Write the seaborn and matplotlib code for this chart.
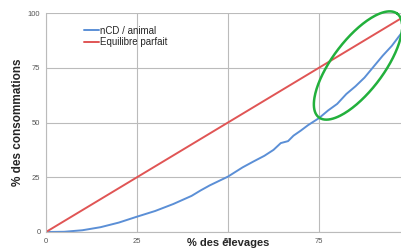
import numpy as np
import pandas as pd
import matplotlib
matplotlib.use("Agg")
import matplotlib.pyplot as plt
import seaborn as sns

# % des élevages (x) and cumulative % des consommations (y)
elevages = [0, 5, 10, 15, 20, 25, 30, 35, 40, 42.5, 45, 50, 54, 57, 60, 62.5,
            64.5, 66.5, 68, 70, 72, 75, 77.5, 80, 82.5, 85, 87.5, 90, 92.5,
            95, 97.5, 100]
ncd_animal = [0, 0.1, 0.8, 2.2, 4.3, 7, 9.6, 12.8, 16.5, 19, 21.3, 25.3, 29.5,
              32.2, 34.8, 37.5, 40.6, 41.5, 44, 46.3, 48.8, 52, 55.5, 58.5,
              63, 66.5, 70.5, 75.5, 80.5, 85, 90.5, 95]
equilibre_x = [0, 100]
equilibre_y = [0, 100]

SERIES = ["nCD / animal", "Equilibre parfait"]
COLORS = ["#5b8fd6", "#e05555"]
X_TICKS = [0, 25, 50, 75]
Y_TICKS = [0, 25, 50, 75, 100]

df = pd.concat([
    pd.DataFrame({"x": elevages, "y": ncd_animal, "serie": SERIES[0]}),
    pd.DataFrame({"x": equilibre_x, "y": equilibre_y, "serie": SERIES[1]}),
])

sns.set_theme(style="whitegrid")
plt.rcParams["font.family"] = ["Liberation Sans", "DejaVu Sans"]

fig = plt.figure(figsize=(4.01, 2.5), dpi=100)
ax = fig.add_axes([46 / 401, 18 / 250, 364 / 401, 219 / 250])

sns.lineplot(data=df, x="x", y="y", hue="serie", hue_order=SERIES,
             palette=COLORS, linewidth=1.4, ax=ax, sort=False)

ax.set_xlim(0, 100)
ax.set_ylim(0, 100)
ax.set_xticks(X_TICKS)
ax.set_yticks(Y_TICKS)
ax.tick_params(axis="both", labelsize=5.5, labelcolor="#555555", length=0, pad=4)
ax.grid(True, color="#bbbbbb", linewidth=0.8)
for side in ["top", "right"]:
    ax.spines[side].set_visible(False)
for side in ["left", "bottom"]:
    ax.spines[side].set_color("#bbbbbb")
    ax.spines[side].set_linewidth(0.8)

ax.set_xlabel("% des élevages", fontsize=8, fontweight="bold", labelpad=-4.5)
ax.set_ylabel("% des consommations", fontsize=8.5, fontweight="bold", labelpad=3)

leg = ax.legend(loc="upper left", bbox_to_anchor=(0.09, 0.965), frameon=False,
                fontsize=7, handlelength=1.6, handletextpad=0.1,
                labelspacing=0.15, borderpad=0)

# green highlight ellipse, drawn in pixel space and mapped to data space
t = np.linspace(0, 2 * np.pi, 200)
ang = np.deg2rad(53)
cx, cy, a, b = 358, 250 - 65.5, 65, 25.6
px = cx + a * np.cos(t) * np.cos(ang) - b * np.sin(t) * np.sin(ang)
py = cy + a * np.cos(t) * np.sin(ang) + b * np.sin(t) * np.cos(ang)
pts = ax.transData.inverted().transform(np.column_stack([px, py]))
ax.plot(pts[:, 0], pts[:, 1], color="#22b03c", linewidth=1.8, clip_on=False)

fig.savefig("out.png", dpi=100)
